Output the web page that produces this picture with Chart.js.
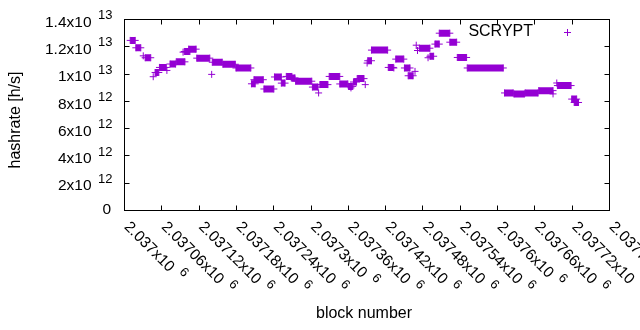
<!DOCTYPE html>
<html>
<head>
<meta charset="utf-8">
<script src="https://cdn.jsdelivr.net/npm/chart.js@4/dist/chart.umd.min.js"></script>
<style>
  html, body { margin: 0; padding: 0; background: #fff; }
  canvas { display: block; }
</style>
</head>
<body>
<canvas id="hashCanvas" width="640" height="330"></canvas>
<script>
// runs of consecutive SCRYPT blocks with the same hashrate (start block, end block, h/s)
const runStart = [2037010, 2037019, 2037031, 2037034, 2037047, 2037050, 2037057, 2037069, 2037074, 2037084,
                  2037095, 2037097, 2037104, 2037117, 2037141, 2037142, 2037159, 2037180, 2037205, 2037209,
                  2037225, 2037242, 2037253, 2037261, 2037269, 2037276, 2037303, 2037313, 2037315, 2037330,
                  2037347, 2037361, 2037365, 2037369, 2037375, 2037388, 2037391, 2037392, 2037398, 2037425,
                  2037434, 2037437, 2037451, 2037457, 2037468, 2037470, 2037472, 2037475, 2037489, 2037492,
                  2037500, 2037507, 2037524, 2037536, 2037552, 2037612, 2037627, 2037645, 2037667, 2037690,
                  2037696, 2037697, 2037720, 2037724];
const runEnd   = [2037018, 2037027, 2037031, 2037043, 2037047, 2037056, 2037068, 2037069, 2037083, 2037098,
                  2037095, 2037106, 2037116, 2037138, 2037141, 2037158, 2037179, 2037204, 2037211, 2037224,
                  2037241, 2037253, 2037259, 2037270, 2037275, 2037302, 2037312, 2037313, 2037328, 2037347,
                  2037360, 2037368, 2037365, 2037374, 2037386, 2037388, 2037391, 2037398, 2037424, 2037433,
                  2037434, 2037450, 2037460, 2037465, 2037468, 2037470, 2037472, 2037492, 2037489, 2037498,
                  2037507, 2037524, 2037535, 2037551, 2037610, 2037626, 2037644, 2037666, 2037690, 2037690,
                  2037696, 2037719, 2037728, 2037731];
const runHash  = [12.43e12, 11.89e12, 11.30e12, 11.16e12, 9.77e12, 10.08e12, 10.45e12, 10.23e12, 10.70e12, 10.86e12,
                  11.57e12, 11.62e12, 11.79e12, 11.13e12, 9.94e12, 10.83e12, 10.68e12, 10.41e12, 9.25e12, 9.55e12,
                  8.87e12, 9.75e12, 9.30e12, 9.79e12, 9.68e12, 9.44e12, 9.01e12, 8.58e12, 9.19e12, 9.79e12,
                  9.24e12, 9.06e12, 8.95e12, 9.38e12, 9.63e12, 9.19e12, 10.77e12, 10.94e12, 11.72e12, 10.45e12,
                  10.41e12, 11.06e12, 10.41e12, 9.84e12, 10.16e12, 12.08e12, 11.69e12, 11.86e12, 11.16e12, 11.27e12,
                  12.16e12, 12.96e12, 12.30e12, 11.18e12, 10.41e12, 8.58e12, 8.51e12, 8.58e12, 8.75e12, 8.51e12,
                  9.31e12, 9.12e12, 8.13e12, 7.88e12];

const xTicks = [2037000, 2037060, 2037120, 2037180, 2037240, 2037300, 2037360,
                2037420, 2037480, 2037540, 2037600, 2037660, 2037720, 2037780];
const xTickMant = ['2.037x10', '2.03706x10', '2.03712x10', '2.03718x10', '2.03724x10', '2.0373x10', '2.03736x10',
                   '2.03742x10', '2.03748x10', '2.03754x10', '2.0376x10', '2.03766x10', '2.03772x10', '2.03778x10'];
const xTickExp = ['6', '6', '6', '6', '6', '6', '6', '6', '6', '6', '6', '6', '6', '6'];

const yTicks = [0, 2e12, 4e12, 6e12, 8e12, 1e13, 1.2e13, 1.4e13];
const yTickMant = ['0', '2x10', '4x10', '6x10', '8x10', '1x10', '1.2x10', '1.4x10'];
const yTickExp = ['', '12', '12', '12', '12', '13', '13', '13'];

const purple = '#9400d3';
const FONT = '"Liberation Sans", Arial, sans-serif';

// thick segments for the runs, broken by null points
const runLine = [];
const runMarks = [];
for (let i = 0; i < runStart.length; i++) {
    runLine.push({x: runStart[i], y: runHash[i]});
    runLine.push({x: runEnd[i], y: runHash[i]});
    runLine.push({x: runEnd[i], y: null});
    runMarks.push({x: runStart[i], y: runHash[i]});
    if (runEnd[i] !== runStart[i]) runMarks.push({x: runEnd[i], y: runHash[i]});
}

const gnuplotFrame = {
    id: 'gnuplotFrame',
    afterDraw(chart) {
        const ctx = chart.ctx;
        const a = chart.chartArea;
        const xs = chart.scales.x, ys = chart.scales.y;
        const tick = 5;
        const L = Math.round(a.left) + 0.5, R = Math.round(a.right) + 0.5;
        const T = Math.round(a.top) + 0.5, B = Math.round(a.bottom) + 0.5;
        ctx.save();
        ctx.strokeStyle = '#000';
        ctx.lineWidth = 1;
        ctx.strokeRect(L, T, R - L, B - T);
        ctx.beginPath();
        xTicks.forEach(v => {
            const px = Math.round(xs.getPixelForValue(v)) + 0.5;
            ctx.moveTo(px, B); ctx.lineTo(px, B - tick);
            ctx.moveTo(px, T); ctx.lineTo(px, T + tick);
        });
        yTicks.forEach(v => {
            const py = Math.round(ys.getPixelForValue(v)) + 0.5;
            ctx.moveTo(L, py); ctx.lineTo(L + tick, py);
            ctx.moveTo(R, py); ctx.lineTo(R - tick, py);
        });
        ctx.stroke();

        ctx.fillStyle = '#000';
        ctx.textBaseline = 'middle';

        // y tick labels
        yTicks.forEach((v, i) => {
            const py = ys.getPixelForValue(v);
            ctx.font = '15.5px ' + FONT;
            ctx.textAlign = 'right';
            if (!yTickExp[i]) {
                ctx.fillText(yTickMant[i], 111, py);
                return;
            }
            ctx.fillText(yTickMant[i], 91.5, py + 3.5);
            ctx.font = '13px ' + FONT;
            ctx.textAlign = 'left';
            ctx.fillText(yTickExp[i], 98, py - 3.5);
        });

        // x tick labels, rotated down to the right
        xTicks.forEach((v, i) => {
            const px = xs.getPixelForValue(v);
            ctx.save();
            ctx.translate(px + 5, 222);
            ctx.rotate(Math.PI / 4);
            ctx.font = '15.5px ' + FONT;
            ctx.textAlign = 'left';
            const w = ctx.measureText(xTickMant[i]).width;
            ctx.fillText(xTickMant[i], 0, 3.5);
            ctx.font = '13px ' + FONT;
            ctx.fillText(xTickExp[i], w + 7, -3);
            ctx.restore();
        });

        // axis titles
        ctx.font = '16px ' + FONT;
        ctx.textAlign = 'center';
        ctx.fillText('block number', 364, 314);
        ctx.save();
        ctx.translate(16, 120);
        ctx.rotate(-Math.PI / 2);
        ctx.fillText('hashrate [h/s]', 0, 0);
        ctx.restore();

        // key
        ctx.textAlign = 'right';
        ctx.fillText('SCRYPT', 533, 32);
        ctx.strokeStyle = purple;
        ctx.beginPath();
        ctx.moveTo(564, 32.5); ctx.lineTo(571, 32.5);
        ctx.moveTo(567.5, 29); ctx.lineTo(567.5, 36);
        ctx.stroke();
        ctx.restore();
    }
};

new Chart(document.getElementById('hashCanvas'), {
    type: 'scatter',
    data: {
        datasets: [{
            label: 'runs',
            data: runLine,
            showLine: true,
            spanGaps: false,
            borderColor: purple,
            borderWidth: 7,
            borderCapStyle: 'butt',
            pointRadius: 0,
            pointHoverRadius: 0
        }, {
            label: 'SCRYPT',
            data: runMarks,
            pointStyle: 'cross',
            pointRadius: 3.5,
            pointBorderWidth: 1,
            borderColor: purple,
            backgroundColor: purple
        }]
    },
    options: {
        responsive: false,
        animation: false,
        devicePixelRatio: 1,
        layout: { padding: { left: 124, right: 31, top: 19, bottom: 120 } },
        plugins: { legend: { display: false }, tooltip: { enabled: false } },
        scales: {
            x: { type: 'linear', min: 2037000, max: 2037780, display: false },
            y: { type: 'linear', min: 0, max: 1.4e13, display: false }
        }
    },
    plugins: [gnuplotFrame]
});
</script>
</body>
</html>
